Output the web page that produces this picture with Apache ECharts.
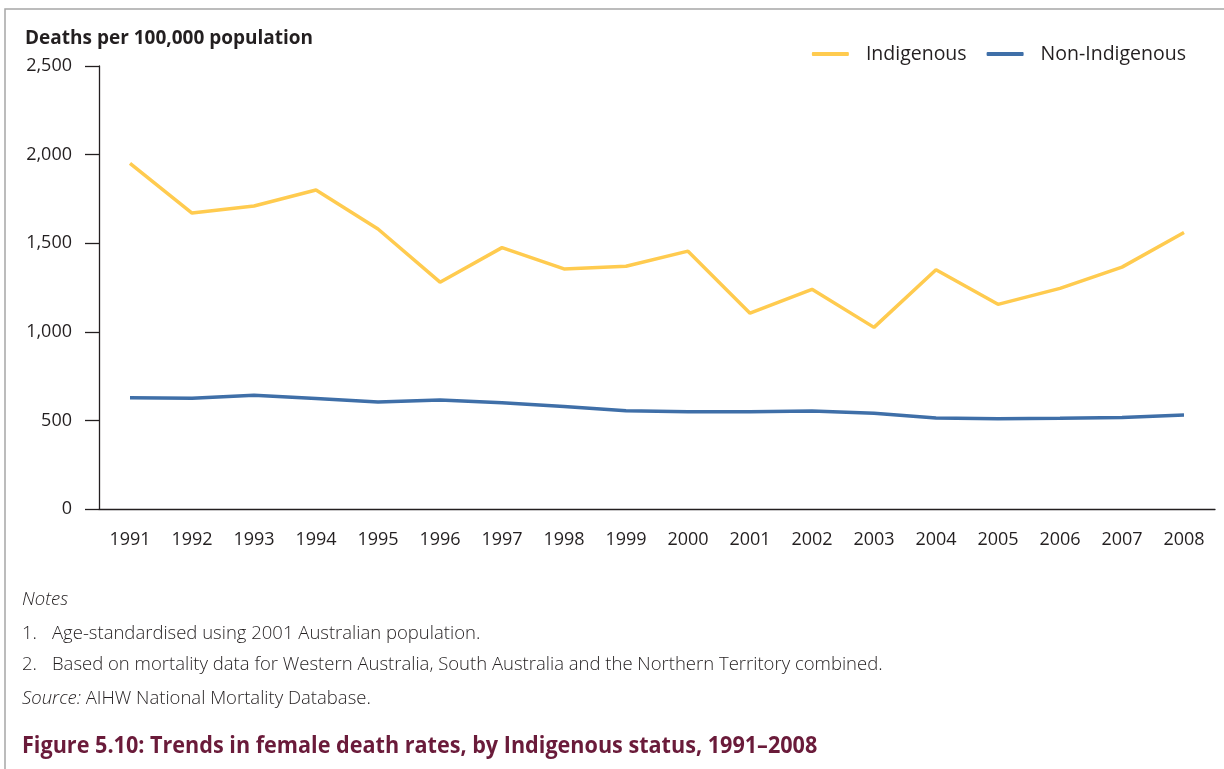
<!DOCTYPE html>
<html>
<head>
<meta charset="utf-8">
<title>Trends in female death rates</title>
<script src="https://cdn.jsdelivr.net/npm/echarts@6/dist/echarts.min.js"></script>
<style>
  html, body { margin: 0; padding: 0; background: #fff; }
  #chart { width: 1224px; height: 769px; }
</style>
</head>
<body>
<div id="chart"></div>
<script>
// data
var years = ['1991', '1992', '1993', '1994', '1995', '1996', '1997', '1998', '1999',
             '2000', '2001', '2002', '2003', '2004', '2005', '2006', '2007', '2008'];
var indigenous = [1950, 1670, 1710, 1800, 1580, 1280, 1475, 1355, 1370,
                  1455, 1105, 1240, 1025, 1350, 1155, 1245, 1365, 1560];
var nonIndigenous = [628, 625, 642, 623, 604, 615, 600, 578, 555,
                     549, 549, 553, 540, 513, 510, 512, 517, 530];
var seriesNames = ['Indigenous', 'Non-Indigenous'];
var notes = [
  ['1.', 'Age-standardised using 2001 Australian population.'],
  ['2.', 'Based on mortality data for Western Australia, South Australia and the Northern Territory combined.']
];

var ink = '#231f20';
var font = '"Open Sans", "Noto Sans", sans-serif';
var noteFont = '300 18.5px ' + font;

var myChart = echarts.init(document.getElementById('chart'));

var noteTexts = [];
for (var i = 0; i < notes.length; i++) {
  noteTexts.push({
    type: 'text', left: 22, top: 624 + i * 31,
    style: { text: notes[i][0], font: noteFont, fill: ink }
  });
  noteTexts.push({
    type: 'text', left: 52, top: 624 + i * 31,
    style: { text: notes[i][1], font: noteFont, fill: ink }
  });
}

var option = {
  animation: false,
  textStyle: { fontFamily: font, color: ink },
  title: {
    text: 'Deaths per 100,000 population',
    left: 20, top: 24,
    textStyle: { fontSize: 19, fontWeight: 'bold', color: ink, fontFamily: font }
  },
  legend: {
    data: seriesNames,
    right: 33, top: 39,
    itemWidth: 37, itemHeight: 4,
    itemGap: 20,
    icon: 'roundRect',
    textStyle: { fontSize: 19.5, color: ink, padding: [0, 0, 0, 12] }
  },
  grid: {
    left: 99, top: 66, width: 1116, bottom: 260,
    containLabel: false
  },
  xAxis: {
    type: 'category',
    data: years,
    boundaryGap: true,
    axisLine: { lineStyle: { color: ink, width: 1.3 } },
    axisTick: { alignWithLabel: true, length: 11, lineStyle: { color: ink, width: 1.3 } },
    axisLabel: { fontSize: 18, color: ink, margin: 22 },
    splitLine: { show: false }
  },
  yAxis: {
    type: 'value',
    min: 0, max: 2500, interval: 500,
    axisLine: { show: true, lineStyle: { color: ink, width: 1.3 } },
    axisTick: { show: true, length: 14, lineStyle: { color: ink, width: 1.3 } },
    axisLabel: {
      fontSize: 18, color: ink, margin: 27,
      formatter: function (v) { return v.toLocaleString('en-US'); }
    },
    splitLine: { show: false }
  },
  series: [
    {
      name: seriesNames[0], type: 'line', data: indigenous,
      showSymbol: false, symbol: 'none',
      lineStyle: { color: '#ffcb4f', width: 3.5 },
      itemStyle: { color: '#ffcb4f' }
    },
    {
      name: seriesNames[1], type: 'line', data: nonIndigenous,
      showSymbol: false, symbol: 'none',
      lineStyle: { color: '#3f6fa8', width: 3.5 },
      itemStyle: { color: '#3f6fa8' }
    }
  ],
  graphic: [
    // page frame
    {
      type: 'polyline', silent: true,
      shape: { points: [[5, 769], [5, 9], [1224, 9]] },
      style: { stroke: '#a6a6a6', lineWidth: 1.5, fill: null }
    },
    {
      type: 'text', left: 22, top: 590,
      style: { text: 'Notes', font: 'italic ' + noteFont, fill: ink }
    }
  ].concat(noteTexts).concat([
    {
      type: 'text', left: 22, top: 689,
      style: {
        text: '{i|Source:} AIHW National Mortality Database.',
        font: noteFont, fill: ink,
        rich: { i: { fontStyle: 'italic', fontWeight: 300, fontSize: 18.5, fontFamily: font, color: ink } }
      }
    },
    {
      type: 'text', x: 22, y: 734, scaleX: 0.9,
      style: {
        text: 'Figure 5.10: Trends in female death rates, by Indigenous status, 1991\u20132008',
        font: 'bold 24px ' + font, fill: '#6a1b3a'
      }
    }
  ])
};

myChart.setOption(option);
</script>
</body>
</html>
